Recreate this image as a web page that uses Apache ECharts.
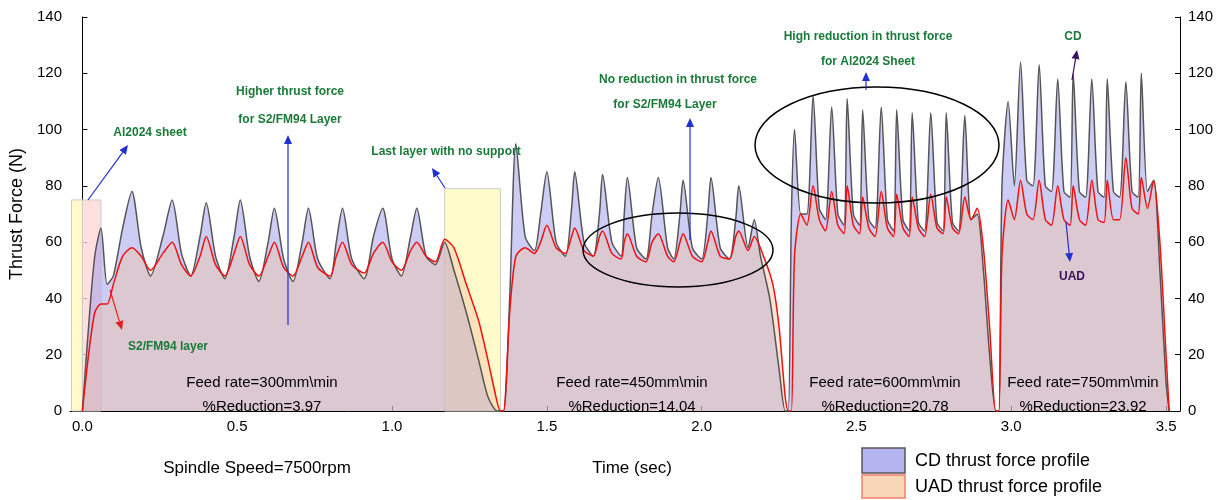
<!DOCTYPE html>
<html><head><meta charset="utf-8">
<script src="https://cdn.jsdelivr.net/npm/echarts@6/dist/echarts.min.js"></script>
<style>body{margin:0}#main{width:1231px;height:500px}</style>
</head><body><div id="main"></div>
<script>
var xTicks = [0, 0.5, 1, 1.5, 2, 2.5, 3, 3.5];
var cdData = [
 [0,0],[0.02,30],[0.04,55],[0.06,65],[0.08,45],[0.1,48],[0.13,65],[0.16,78],[0.19,58],[0.22,48],[0.26,62],[0.29,75],[0.32,56],[0.35,48],[0.38,62],[0.40,74],[0.43,55],[0.46,47],[0.49,62],[0.51,75],[0.54,55],[0.57,46],[0.60,60],[0.62,72],[0.65,54],[0.68,46],[0.71,60],[0.73,72],[0.76,54],[0.80,47],[0.82,60],[0.84,72],[0.87,54],[0.91,47],[0.94,62],[0.97,72],[1.00,54],[1.03,48],[1.06,62],[1.08,72],[1.11,55],[1.14,52],[1.17,60],[1.20,50],[1.24,35],[1.28,18],[1.31,5],[1.34,0],
 [1.36,0],[1.38,40],[1.40,95],[1.43,62],[1.46,57],[1.48,70],[1.50,85],[1.53,60],[1.56,55],[1.58,72],[1.59,85],[1.62,60],[1.65,55],[1.67,70],[1.68,84],[1.71,60],[1.74,55],[1.75,70],[1.76,83],[1.79,58],[1.82,54],[1.84,70],[1.86,83],[1.89,58],[1.91,54],[1.93,70],[1.94,82],[1.97,58],[2.00,54],[2.02,70],[2.03,83],[2.06,58],[2.09,54],[2.11,68],[2.12,80],[2.15,58],[2.17,68],[2.19,55],[2.22,40],[2.25,15],[2.27,0],
 [2.28,0],[2.29,70],[2.30,100],[2.32,70],[2.34,70],[2.36,112],[2.38,72],[2.40,68],[2.42,108],[2.44,70],[2.46,66],[2.47,111],[2.49,70],[2.51,66],[2.52,107],[2.54,68],[2.56,65],[2.58,108],[2.60,68],[2.62,64],[2.63,107],[2.65,68],[2.67,64],[2.68,106],[2.70,67],[2.72,64],[2.74,106],[2.76,67],[2.78,64],[2.79,106],[2.81,67],[2.83,64],[2.85,105],[2.87,68],[2.89,70],[2.91,50],[2.93,20],[2.95,0],
 [2.96,0],[2.97,80],[2.99,110],[3.01,80],[3.03,124],[3.05,82],[3.07,80],[3.09,123],[3.11,80],[3.13,78],[3.15,118],[3.17,78],[3.19,76],[3.20,120],[3.22,78],[3.24,76],[3.26,118],[3.28,78],[3.30,76],[3.31,118],[3.33,78],[3.35,76],[3.37,117],[3.39,78],[3.41,76],[3.42,120],[3.44,78],[3.46,82],[3.48,50],[3.50,10],[3.51,0]
];
var uadData = [
 [0,0],[0.02,20],[0.04,35],[0.06,38],[0.08,38],[0.10,45],[0.13,55],[0.16,58],[0.19,55],[0.22,50],[0.26,56],[0.29,60],[0.32,52],[0.35,48],[0.38,55],[0.40,62],[0.43,52],[0.46,48],[0.49,56],[0.51,62],[0.54,52],[0.57,48],[0.60,55],[0.62,60],[0.65,51],[0.68,48],[0.71,55],[0.73,60],[0.76,51],[0.80,48],[0.82,55],[0.84,60],[0.87,52],[0.91,49],[0.94,56],[0.97,60],[1.00,53],[1.03,50],[1.06,57],[1.08,60],[1.11,55],[1.14,53],[1.17,61],[1.20,58],[1.24,45],[1.28,32],[1.31,18],[1.34,3],[1.35,0],
 [1.36,0],[1.38,35],[1.40,55],[1.43,58],[1.46,56],[1.48,60],[1.50,66],[1.53,58],[1.56,56],[1.58,62],[1.59,65],[1.62,57],[1.65,55],[1.67,62],[1.68,64],[1.71,56],[1.74,54],[1.75,60],[1.76,63],[1.79,55],[1.82,53],[1.84,60],[1.86,63],[1.89,55],[1.91,53],[1.93,60],[1.94,63],[1.97,55],[2.00,53],[2.02,60],[2.03,64],[2.06,55],[2.09,54],[2.11,62],[2.12,64],[2.15,57],[2.17,62],[2.20,55],[2.23,45],[2.25,30],[2.27,5],[2.28,0],
 [2.29,0],[2.30,55],[2.32,70],[2.34,66],[2.36,80],[2.38,68],[2.40,64],[2.42,78],[2.44,66],[2.46,63],[2.47,80],[2.49,66],[2.51,63],[2.52,76],[2.54,65],[2.56,62],[2.58,78],[2.60,65],[2.62,62],[2.63,77],[2.65,65],[2.67,62],[2.68,76],[2.70,65],[2.72,62],[2.74,77],[2.76,65],[2.78,63],[2.79,76],[2.81,65],[2.83,63],[2.85,76],[2.87,68],[2.89,72],[2.91,58],[2.93,30],[2.95,0],
 [2.96,0],[2.97,55],[2.99,75],[3.01,68],[3.03,82],[3.05,70],[3.07,68],[3.09,82],[3.11,68],[3.13,66],[3.15,80],[3.17,68],[3.19,66],[3.20,80],[3.22,68],[3.24,66],[3.26,82],[3.28,68],[3.30,67],[3.31,82],[3.33,68],[3.35,68],[3.37,90],[3.39,72],[3.41,70],[3.42,83],[3.44,72],[3.46,82],[3.48,60],[3.50,20],[3.51,0]
];
var feedLabels = ['Feed rate=300mm\\min','Feed rate=450mm\\min','Feed rate=600mm\\min','Feed rate=750mm\\min'];
var reductions = ['%Reduction=3.97','%Reduction=14.04','%Reduction=20.78','%Reduction=23.92'];

var myChart = echarts.init(document.getElementById('main'));
var G = '#1a7a3a', B = '#1f2fd0', P = '#3a1060';
function txt(x, y, s, c, size, bold) {
  return {type:'text', x:x, y:y, z:100, style:{text:s, fill:c, font:(bold?'bold ':'')+size+'px Arial', align:'center', verticalAlign:'middle'}};
}
function arrow(x1, y1, x2, y2, c) {
  var a = Math.atan2(y2-y1, x2-x1), L = 9, w = 4;
  var bx = x2 - L*Math.cos(a), by = y2 - L*Math.sin(a);
  return [
    {type:'line', z:100, shape:{x1:x1,y1:y1,x2:bx,y2:by}, style:{stroke:c, lineWidth:1.2}},
    {type:'polygon', z:100, shape:{points:[[x2,y2],[bx - w*Math.sin(a), by + w*Math.cos(a)],[bx + w*Math.sin(a), by - w*Math.cos(a)]]}, style:{fill:c}}
  ];
}
var g = [
  {type:'ellipse', z:100, shape:{cx:678,cy:250,rx:95,ry:37}, style:{fill:'none',stroke:'#000',lineWidth:1.5}},
  {type:'ellipse', z:100, shape:{cx:877,cy:145,rx:122,ry:58}, style:{fill:'none',stroke:'#000',lineWidth:1.5}},
  txt(150,133,'Al2024 sheet',G,12,true),
  txt(290,92,'Higher thrust force',G,12,true), txt(290,120,'for S2/FM94 Layer',G,12,true),
  txt(446,152,'Last layer with no support',G,12,true),
  txt(678,80,'No reduction in thrust force',G,12,true), txt(665,105,'for S2/FM94 Layer',G,12,true),
  txt(868,37,'High reduction in thrust force',G,12,true), txt(868,62,'for Al2024 Sheet',G,12,true),
  txt(1073,37,'CD',G,12,true), txt(1072,277,'UAD',P,12,true),
  txt(168,347,'S2/FM94 layer',G,12,true),
  txt(257,468,'Spindle Speed=7500rpm','#000',17,false),
  txt(632,468,'Time (sec)','#000',17,false),
  {type:'rect', shape:{x:862,y:448,width:43,height:25}, style:{fill:'#b4b4f0',stroke:'#555',lineWidth:1.5}},
  {type:'rect', shape:{x:862,y:475,width:43,height:23}, style:{fill:'#f7d7b8',stroke:'#f08070',lineWidth:1.5}},
  {type:'text', x:915, y:461, style:{text:'CD thrust force profile', fill:'#000', font:'18px Arial', verticalAlign:'middle'}},
  {type:'text', x:915, y:487, style:{text:'UAD thrust force profile', fill:'#000', font:'18px Arial', verticalAlign:'middle'}}
];
var fx = [262, 632, 885, 1083];
fx.forEach(function(x, i){ g.push(txt(x,383,feedLabels[i],'#000',15,false)); g.push(txt(x,407,reductions[i],'#000',15,false)); });
g = g.concat(arrow(88,200,128,145,B), arrow(288,325,288,135,B), arrow(445,188,432,168,B),
  arrow(690,240,690,118,B), arrow(866,90,866,72,B), arrow(1072,80,1077,50,P), arrow(1066,222,1070,262,B), arrow(110,290,122,330,'#e02020'));

var yAx = {type:'value', min:0, max:140, interval:20, splitLine:{show:false},
  axisLine:{show:true,lineStyle:{color:'#000'}}, axisTick:{show:true,inside:true,length:5},
  axisLabel:{color:'#000',fontSize:15}};
var option = {
  animation:false,
  grid:{left:70, right:51, top:17, bottom:89},
  xAxis:{type:'value', min:-0.04, max:3.545, splitLine:{show:false},
    axisLine:{onZero:false,lineStyle:{color:'#000'}},
    axisTick:{inside:true,length:5,customValues:xTicks},
    axisLabel:{color:'#000',fontSize:15,customValues:xTicks,formatter:function(v){return v.toFixed(1);}}},
  yAxis:[Object.assign({name:'Thrust Force (N)', nameLocation:'middle', nameGap:40, nameTextStyle:{fontSize:18,color:'#000'}}, yAx),
         Object.assign({position:'right'}, yAx)],
  series:[
    {type:'line', name:'CD', data:cdData, showSymbol:false, smooth:0.25,
      lineStyle:{color:'#555',width:1.5}, areaStyle:{color:'rgba(150,150,235,0.7)'},
      markArea:{silent:true, data:[
        [{coord:[-0.035,0],itemStyle:{color:'rgba(255,250,190,0.8)'}},{coord:[0.0,75]}],
        [{coord:[0.0,0],itemStyle:{color:'rgba(255,215,215,0.8)'}},{coord:[0.06,75]}],
        [{coord:[1.17,0],itemStyle:{color:'rgba(255,250,190,0.8)'}},{coord:[1.35,79]}]
      ], itemStyle:{borderColor:'#ccc',borderWidth:1}}},
    {type:'line', name:'UAD', data:uadData, showSymbol:false, smooth:0.25,
      lineStyle:{color:'#f01010',width:1.5}, areaStyle:{color:'rgba(240,195,165,0.65)'}}
  ],
  graphic:g
};
myChart.setOption(option);
</script></body></html>
